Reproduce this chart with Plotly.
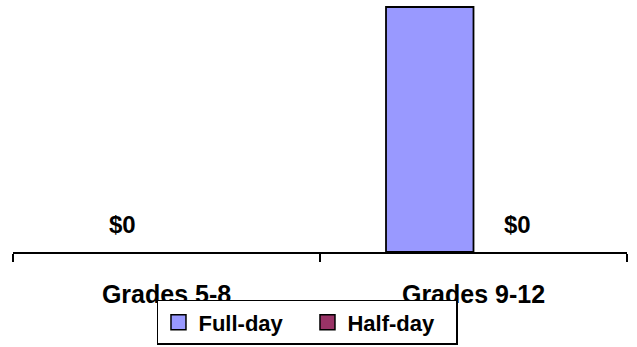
import plotly.graph_objects as go

# Chart data
categories = ["Grades 5-8", "Grades 9-12"]
full_day = [0, 5000]
half_day = [None, 0]
series_names = ["Full-day", "Half-day"]
series_colors = ["#9999FF", "#993366"]

FONT = "Liberation Sans, Arial, sans-serif"


def bold(size):
    return dict(family=FONT, size=size, color="#000000", weight="bold")


fig = go.Figure()
for name, vals, col in zip(series_names, [full_day, half_day], series_colors):
    # zero-height bars get no outline so no stray stroke sits on the axis
    widths = [1.8 if (v is not None and v > 0) else 0 for v in vals]
    fig.add_trace(go.Bar(
        name=name, x=categories, y=vals, showlegend=False,
        marker=dict(color=col, line=dict(color="#000000", width=widths)),
    ))

# legend entries drawn as square swatches
for name, col in zip(series_names, series_colors):
    fig.add_trace(go.Scatter(
        name=name, x=[None], y=[None], mode="markers",
        marker=dict(symbol="square", size=15, color=col,
                    line=dict(color="#000000", width=1.5)),
    ))

# "$" value labels above each bar that has a zero value
offsets = {"Full-day": -44, "Half-day": 44}
for name, vals in zip(series_names, [full_day, half_day]):
    for cat, v in zip(categories, vals):
        if v is None or v > 0:
            continue
        fig.add_annotation(
            x=cat, y=v, xref="x", yref="y", text=f"${v:,.0f}",
            showarrow=False, xshift=offsets[name], yshift=28,
            font=bold(24),
        )

top_val = max(full_day) * 252 / 245

fig.update_layout(
    width=637, height=347,
    margin=dict(l=13, r=10, t=0, b=95, autoexpand=False),
    paper_bgcolor="white", plot_bgcolor="white",
    barmode="group", bargap=0.43, bargroupgap=0,
    showlegend=True,
    legend=dict(
        orientation="h", x=0.2345, y=-0.19, xanchor="left", yanchor="top",
        bordercolor="#000000", borderwidth=1.5,
        font=bold(22), itemsizing="trace", tracegroupgap=0,
        entrywidth=104, entrywidthmode="pixels",
    ),
    xaxis=dict(
        showline=True, linecolor="#000000", linewidth=1.5,
        ticks="outside", tickson="boundaries", ticklen=8,
        tickcolor="#000000", tickwidth=1.5,
        tickfont=bold(25),
        ticklabelstandoff=19,
        showgrid=False,
    ),
    yaxis=dict(range=[0, top_val], visible=False, showgrid=False),
)

fig.write_html("out.html")
